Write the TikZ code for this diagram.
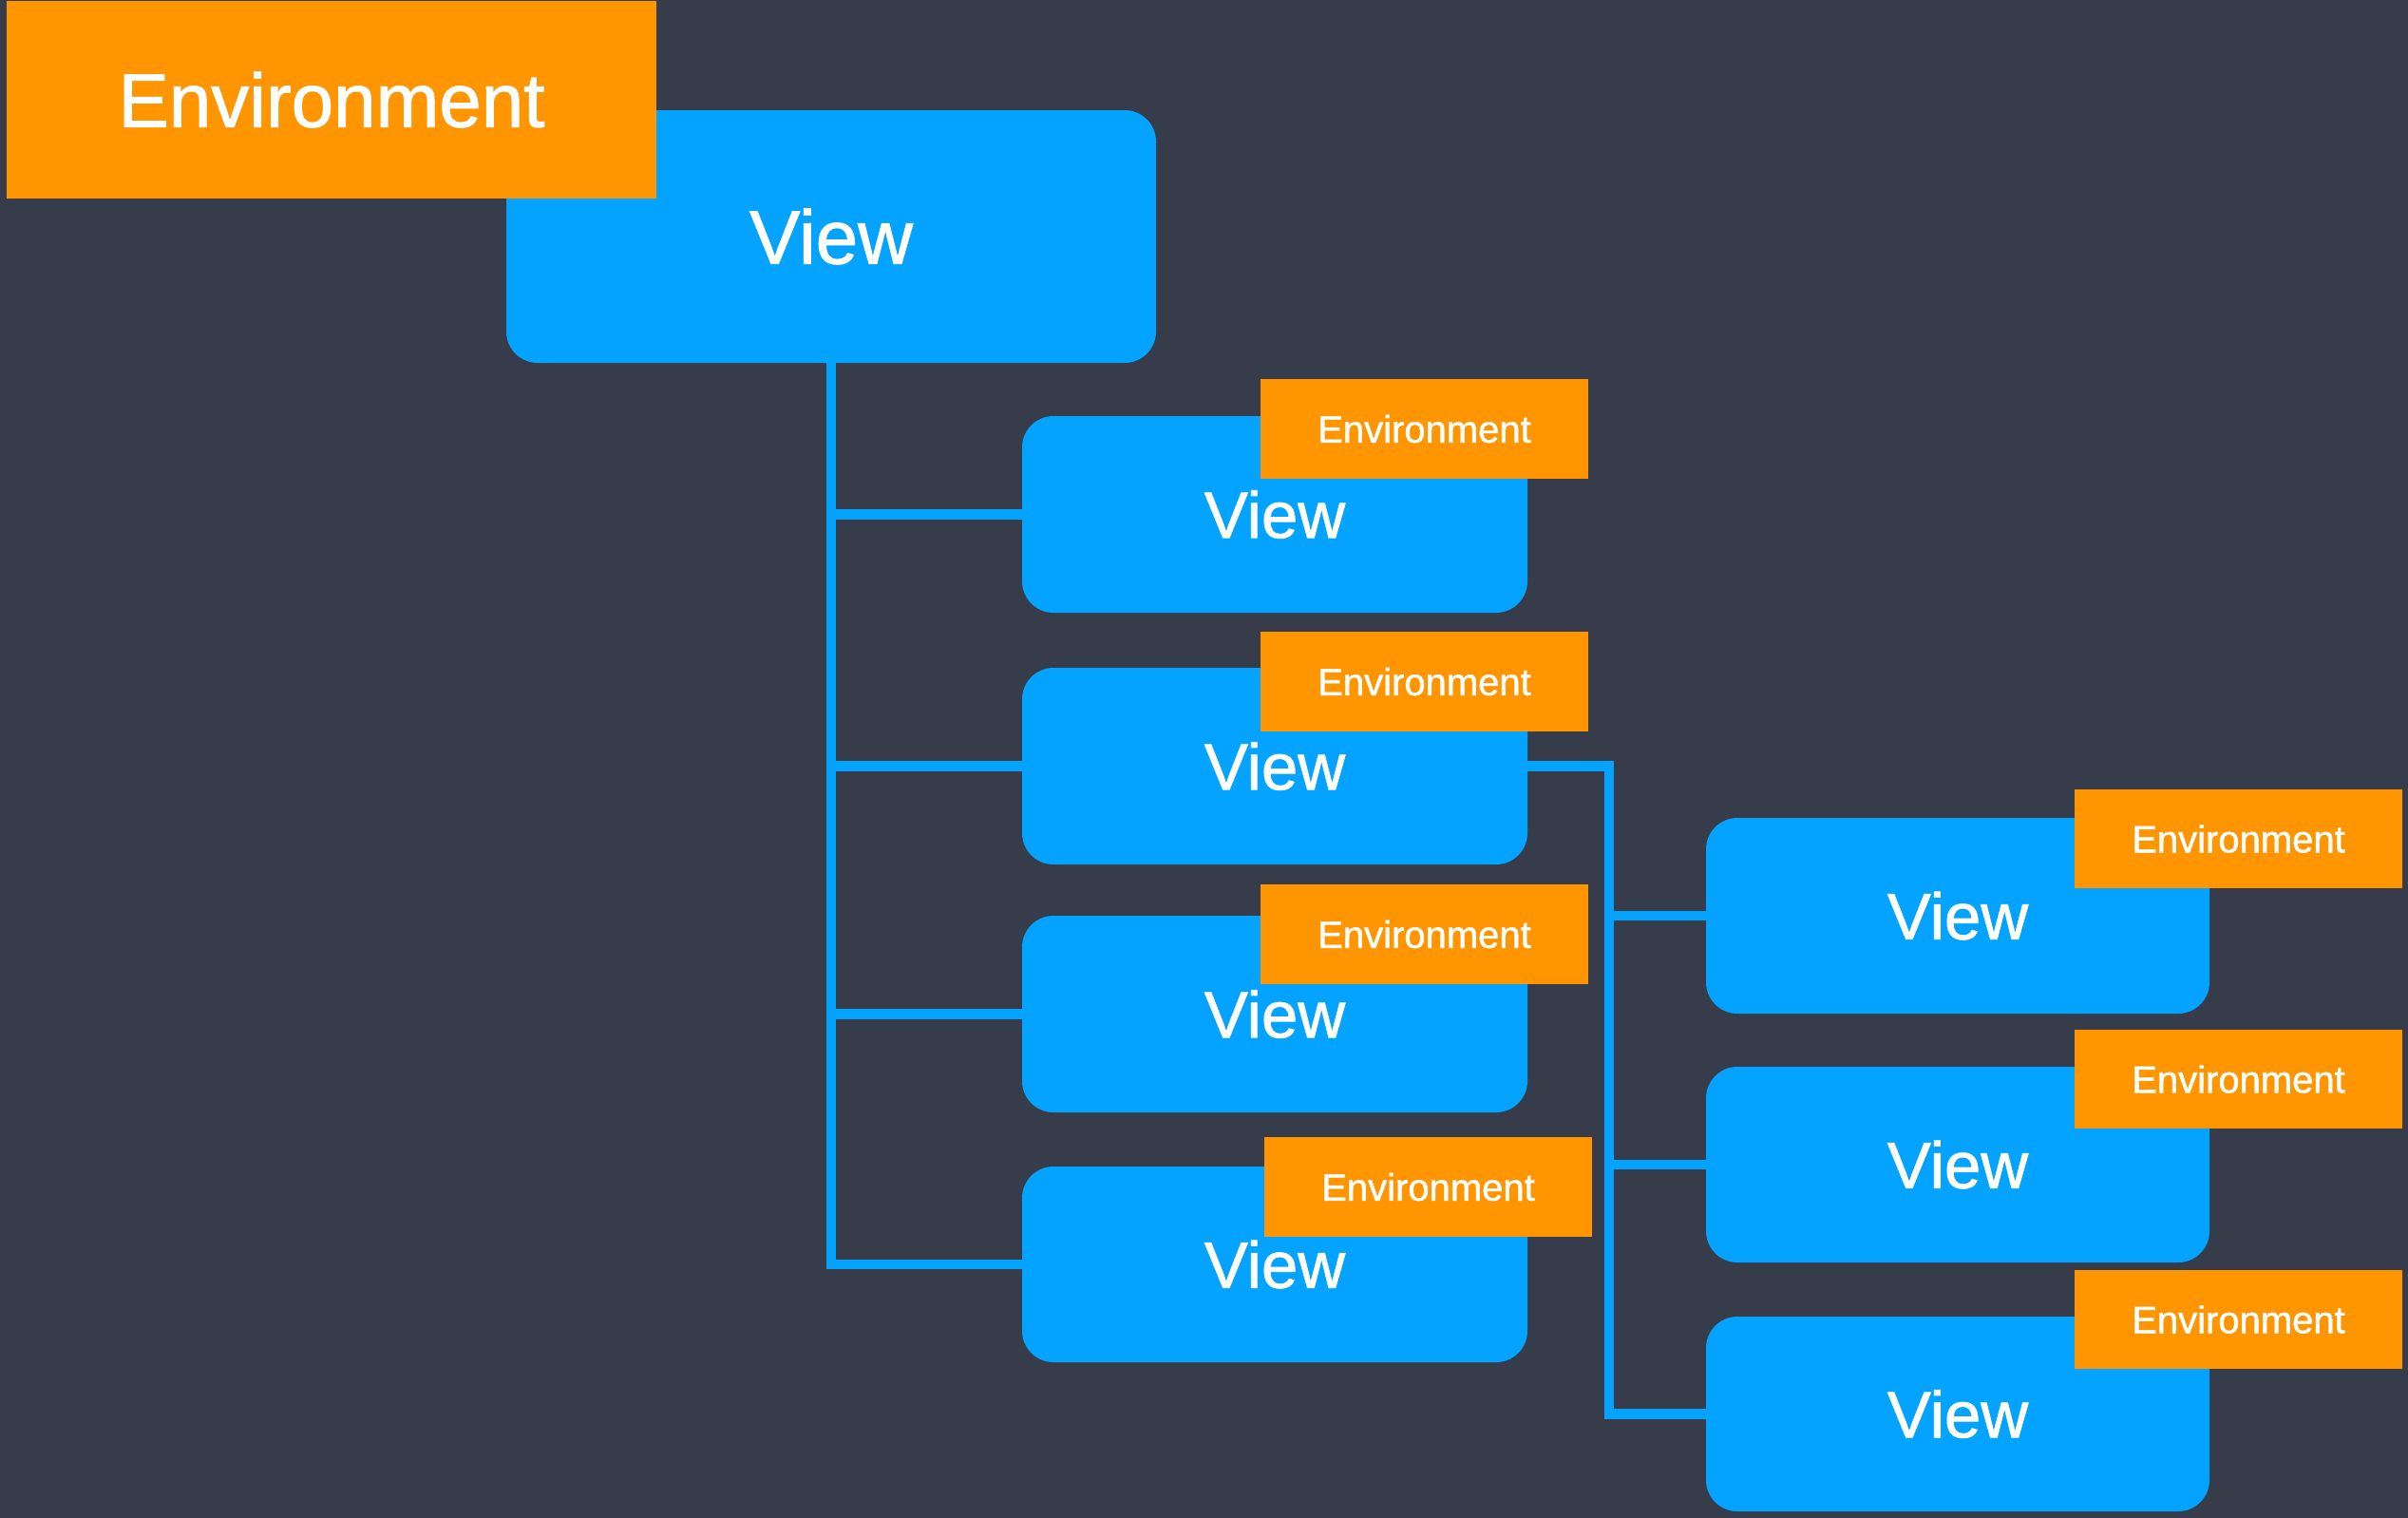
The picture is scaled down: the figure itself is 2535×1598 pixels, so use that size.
\documentclass[tikz,border=0pt]{standalone}
\usepackage{fontspec}
\setmainfont{Liberation Sans}[FakeBold=1.2]
\definecolor{bgc}{RGB}{54,60,74}
\definecolor{viewc}{RGB}{3,163,255}
\definecolor{envc}{RGB}{255,149,0}
\begin{document}
\begin{tikzpicture}[x=1pt,y=-1pt,
  viewbox/.style={fill=viewc, rounded corners=33pt, inner sep=0pt, outer sep=0pt, text=white, font=\fontsize{69}{80}\selectfont},
  bigview/.style={viewbox, font=\fontsize{80}{96}\selectfont},
  envbox/.style={fill=envc, inner sep=0pt, outer sep=0pt, text=white, font=\fontsize{40}{48}\selectfont},
  bigenv/.style={envbox, font=\fontsize{80}{96}\selectfont},
  link/.style={draw=viewc, line width=10.5pt}]
\fill[bgc] (0,0) rectangle (2535,1598);
\useasboundingbox (0,0) rectangle (2535,1598);

% view boxes
\node[bigview, minimum width=684pt, minimum height=266pt] (bv) at (875,249) {View};
\node[viewbox, minimum width=532pt, minimum height=207pt] (c1) at (1342,541.5) {View};
\node[viewbox, minimum width=532pt, minimum height=207pt] (c2) at (1342,806.5) {View};
\node[viewbox, minimum width=532pt, minimum height=207pt] (c3) at (1342,1067.5) {View};
\node[viewbox, minimum width=532pt, minimum height=206pt] (c4) at (1342,1331) {View};
\node[viewbox, minimum width=530pt, minimum height=206pt] (d1) at (2061,964) {View};
\node[viewbox, minimum width=530pt, minimum height=206pt] (d2) at (2061,1226) {View};
\node[viewbox, minimum width=530pt, minimum height=205pt] (d3) at (2061,1488.5) {View};

% connectors
\coordinate (rx) at (1694,0);
\draw[link] (bv.south) |- (c4.west);
\draw[link] (bv.south |- c1.west) -- (c1.west);
\draw[link] (bv.south |- c2.west) -- (c2.west);
\draw[link] (bv.south |- c3.west) -- (c3.west);
\draw[link] (c2.east) -| (rx |- d3.west) -- (d3.west);
\draw[link] (rx |- d1.west) -- (d1.west);
\draw[link] (rx |- d2.west) -- (d2.west);

% environment boxes
\node[bigenv, minimum width=684pt, minimum height=208pt] (be) at (349,105) {Environment};
\node[envbox, minimum width=345pt, minimum height=105pt] (e1) at (1499.5,451.5) {Environment};
\node[envbox, minimum width=345pt, minimum height=105pt] (e2) at (1499.5,717.5) {Environment};
\node[envbox, minimum width=345pt, minimum height=105pt] (e3) at (1499.5,983.5) {Environment};
\node[envbox, minimum width=345pt, minimum height=105pt] (e4) at (1503.5,1249.5) {Environment};
\node[envbox, minimum width=345pt, minimum height=104pt] (f1) at (2356.5,883) {Environment};
\node[envbox, minimum width=345pt, minimum height=104pt] (f2) at (2356.5,1136) {Environment};
\node[envbox, minimum width=345pt, minimum height=104pt] (f3) at (2356.5,1389) {Environment};
\end{tikzpicture}
\end{document}
